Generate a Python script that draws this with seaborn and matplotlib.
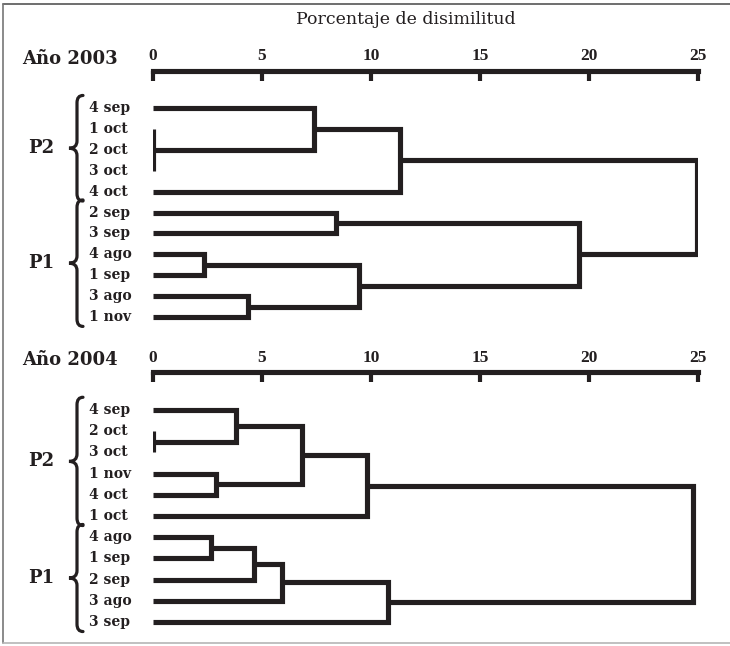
import matplotlib
matplotlib.use("Agg")
import matplotlib.pyplot as plt
from matplotlib.path import Path
from matplotlib.patches import PathPatch
from matplotlib.lines import Line2D
import seaborn as sns
import pandas as pd
import numpy as np

# ---------------- data ----------------
axis_title = "Porcentaje de disimilitud"
x_ticks = [0, 5, 10, 15, 20, 25]

year_2003 = "Año 2003"
labels_2003 = ["4 sep", "1 oct", "2 oct", "3 oct", "4 oct",
               "2 sep", "3 sep", "4 ago", "1 sep", "3 ago", "1 nov"]
# (children node ids, merge height); leaves are 0..10, merges numbered from 11
merges_2003 = [([1, 2, 3], 0.0),    # 11
               ([0, 11], 7.37),     # 12
               ([12, 4], 11.34),    # 13
               ([5, 6], 8.38),      # 14
               ([7, 8], 2.34),      # 15
               ([9, 10], 4.35),     # 16
               ([15, 16], 9.43),    # 17
               ([14, 17], 19.55),   # 18
               ([13, 18], 24.94)]   # 19
groups_2003 = [("P2", 0, 4), ("P1", 5, 10)]

year_2004 = "Año 2004"
labels_2004 = ["4 sep", "2 oct", "3 oct", "1 nov", "4 oct", "1 oct",
               "4 ago", "1 sep", "2 sep", "3 ago", "3 sep"]
merges_2004 = [([1, 2], 0.0),       # 11
               ([0, 11], 3.81),     # 12
               ([3, 4], 2.87),      # 13
               ([12, 13], 6.82),    # 14
               ([14, 5], 9.81),     # 15
               ([6, 7], 2.64),      # 16
               ([16, 8], 4.64),     # 17
               ([17, 9], 5.91),     # 18
               ([18, 10], 10.8),    # 19
               ([15, 19], 24.75)]   # 20
groups_2004 = [("P2", 0, 5), ("P1", 6, 10)]

# ---------------- style ----------------
INK = "#231f20"
W, H = 730, 646
sns.set_theme(style="white")
plt.rcParams["font.family"] = ["Liberation Serif", "DejaVu Serif"]
plt.rcParams["text.color"] = INK
plt.rcParams["xtick.color"] = INK
SERIF2 = ["DejaVu Serif", "Liberation Serif"]


def build_segments(labels, merges):
    n = len(labels)
    center = {i: float(i) for i in range(n)}
    height = {i: 0.0 for i in range(n)}
    rows = []
    seg = 0
    for k, (children, h) in enumerate(merges):
        node = n + k
        cs = sorted(children, key=lambda c: center[c])
        first, last = cs[0], cs[-1]
        pts = [(height[first], center[first]), (h, center[first]),
               (h, center[last]), (height[last], center[last])]
        for x, y in pts:
            rows.append((seg, x, y))
        seg += 1
        for c in cs[1:-1]:
            rows.append((seg, height[c], center[c]))
            rows.append((seg, h, center[c]))
            seg += 1
        center[node] = float(np.mean([center[c] for c in children]))
        height[node] = h
    return pd.DataFrame(rows, columns=["seg", "x", "y"])


fig = plt.figure(figsize=(W / 100, H / 100), dpi=100)

X0, X25 = 153, 698
ax_left = X0 / W
ax_width = (X25 - X0) / W


def px2fx(px):
    return (px - X0) / (X25 - X0)


def draw_brace(ax, y0, y1):
    xv, xc, xe = px2fx(77), px2fx(69), px2fx(83)
    ym = (y0 + y1) / 2
    d = 0.35
    verts = [(xe, y0), (xv, y0), (xv, y0 + d),
             (xv, ym - d), (xv, ym), (xc, ym),
             (xv, ym), (xv, ym + d),
             (xv, y1 - d), (xv, y1), (xe, y1)]
    codes = [Path.MOVETO, Path.CURVE3, Path.CURVE3,
             Path.LINETO, Path.CURVE3, Path.CURVE3,
             Path.CURVE3, Path.CURVE3,
             Path.LINETO, Path.CURVE3, Path.CURVE3]
    patch = PathPatch(Path(verts, codes), transform=ax.get_yaxis_transform(),
                      fill=False, edgecolor=INK, lw=2.3, clip_on=False,
                      capstyle="round")
    ax.add_patch(patch)


def panel(axis_px, row0_px, step_px, bottom_px, year, labels, merges, groups):
    ax = fig.add_axes([ax_left, 1 - bottom_px / H, ax_width, (bottom_px - axis_px) / H])
    df = build_segments(labels, merges)
    sns.lineplot(data=df, x="x", y="y", units="seg", estimator=None, sort=False,
                 color=INK, linewidth=3.7, solid_capstyle="butt",
                 solid_joinstyle="miter", ax=ax)
    ax.set_xlim(0, 25)
    ax.set_ylim((bottom_px - row0_px) / step_px, (axis_px - row0_px) / step_px)
    ax.set_xlabel("")
    ax.set_ylabel("")
    for s in ["left", "right", "bottom"]:
        ax.spines[s].set_visible(False)
    ax.spines["top"].set_linewidth(3.7)
    ax.spines["top"].set_color(INK)
    ax.set_xticks(x_ticks)
    ax.set_xticklabels([str(t) for t in x_ticks], fontweight="bold", fontsize=12.5)
    ax.set_yticks([])
    ax.tick_params(axis="x", top=True, bottom=False, labeltop=True, labelbottom=False,
                   direction="in", length=7, width=3, pad=4.5, color=INK)
    ax.set_facecolor("none")
    ax.grid(False)
    ytf = ax.get_yaxis_transform()
    for i, lab in enumerate(labels):
        ax.text(px2fx(89), i, lab, transform=ytf, ha="left", va="center",
                fontsize=10, fontweight="bold", color=INK, family=SERIF2)
    for name, a, b in groups:
        y0, y1 = a - 0.6, b + 0.45
        draw_brace(ax, y0, y1)
        ax.text(px2fx(41), (y0 + y1) / 2, name, transform=ytf, ha="center",
                va="center", fontsize=13, fontweight="bold", color=INK,
                family=SERIF2)
    fig.text(22 / W, 1 - (axis_px - 12) / H, year, ha="left", va="center",
             fontsize=13, fontweight="bold", color=INK, family=SERIF2)
    return ax


panel(70.5, 108, 20.9, 329, year_2003, labels_2003, merges_2003, groups_2003)
panel(372, 410, 21.2, 630, year_2004, labels_2004, merges_2004, groups_2004)

fig.text(406 / W, 1 - 20 / H, axis_title, ha="center", va="center", fontsize=12.5,
         color=INK, family=SERIF2)

# frame of the figure
fig.add_artist(Line2D([3 / W, 1], [1 - 4 / H, 1 - 4 / H], color="#555555", lw=1.2))
fig.add_artist(Line2D([3 / W, 3 / W], [1 - 4 / H, 1 - 643 / H], color="#777777", lw=1.2))
fig.add_artist(Line2D([3 / W, 1], [1 - 643 / H, 1 - 643 / H], color="#b5b5b5", lw=1.2))

fig.savefig("out.png", dpi=100, facecolor="white")
